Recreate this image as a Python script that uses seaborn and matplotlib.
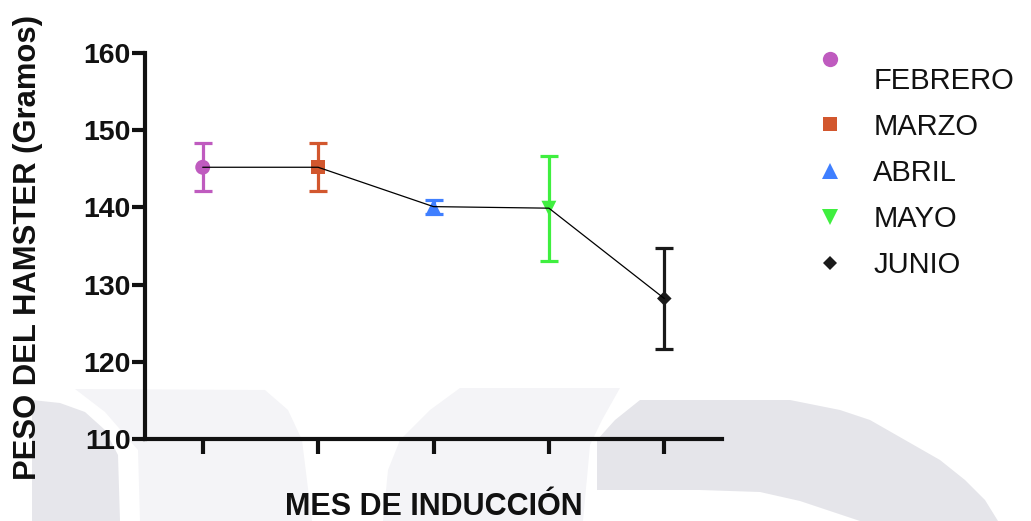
import numpy as np
import pandas as pd
import matplotlib
matplotlib.use("Agg")
import matplotlib.pyplot as plt
from matplotlib.lines import Line2D
from matplotlib.patches import Polygon
import seaborn as sns

# ---- data ----
meses = ["FEBRERO", "MARZO", "ABRIL", "MAYO", "JUNIO"]
peso_medio = [145.2, 145.2, 140.1, 139.9, 128.2]
error_std = [3.1, 3.1, 0.9, 6.8, 6.6]
yticks = [110, 120, 130, 140, 150, 160]

colores = ["#BF5BBF", "#D2572E", "#3F7FFF", "#3FEF3F", "#1A1A1A"]
marcadores = ["o", "s", "^", "v", "D"]
tamanos = [115, 100, 115, 115, 55]

df = pd.DataFrame({"mes": meses, "pos": np.arange(len(meses)),
                   "peso": peso_medio, "err": error_std})

sns.set_style("ticks")
plt.rcParams["font.family"] = ["Liberation Sans", "DejaVu Sans"]

W, H = 1031, 521
fig = plt.figure(figsize=(W / 100, H / 100), dpi=100)

# faint watermark in the background (pixel coordinates)
def px_poly(pts, color):
    xy = [(x / W, 1 - y / H) for x, y in pts]
    fig.patches.append(Polygon(xy, closed=True, transform=fig.transFigure,
                               facecolor=color, edgecolor="none", zorder=-10))

px_poly([(75, 389), (265, 390), (288, 410), (302, 440), (312, 521), (140, 521),
         (138, 450), (105, 412)], "#F4F4F7")
px_poly([(32, 400), (60, 403), (85, 412), (105, 430), (118, 455), (120, 521), (32, 521)], "#E6E6EB")
px_poly([(460, 388), (620, 388), (602, 420), (590, 445), (583, 521), (383, 521),
         (388, 470), (400, 440), (430, 410)], "#F4F4F7")
px_poly([(640, 400), (790, 400), (840, 410), (870, 420), (905, 440), (940, 460), (965, 480),
         (985, 500), (998, 521), (860, 521), (800, 501), (760, 492), (700, 490), (597, 490),
         (597, 440), (615, 420)], "#E5E5EA")

ax = fig.add_axes([145 / W, 1 - 439 / H, (722 - 145) / W, (439 - 53) / H])
ax.patch.set_alpha(0)

# error bars
for i, row in df.iterrows():
    ax.errorbar(row["pos"], row["peso"], yerr=row["err"], fmt="none",
                ecolor=colores[i], elinewidth=2.3, capsize=6.5, capthick=2.3, zorder=2)

# markers
sns.scatterplot(data=df, x="pos", y="peso", hue="mes", style="mes", size="mes",
                palette=dict(zip(meses, colores)),
                markers=dict(zip(meses, marcadores)),
                sizes=dict(zip(meses, tamanos)),
                linewidth=0, legend=False, ax=ax, zorder=3)

# connecting line
sns.lineplot(data=df, x="pos", y="peso", color="black", linewidth=0.9,
             sort=False, ax=ax, zorder=4)

ax.set_xlim(-0.5, 4.5)
ax.set_ylim(110, 160)
ax.set_yticks(yticks)
ax.set_xticks(df["pos"])
ax.set_xticklabels([])
ax.set_xlabel("")
ax.set_ylabel("")

for s in ["top", "right"]:
    ax.spines[s].set_visible(False)
for s in ["left", "bottom"]:
    ax.spines[s].set_linewidth(3)
    ax.spines[s].set_color("#111111")

ax.tick_params(axis="y", length=9.5, width=3, color="#111111", pad=1,
               labelsize=20.5, labelcolor="#111111")
ax.tick_params(axis="x", length=11, width=3, color="#111111")
for t in ax.get_yticklabels():
    t.set_fontweight("bold")

fig.text(28 / W, 1 - 247 / H, "PESO DEL HAMSTER (Gramos)", rotation=90,
         ha="center", va="center", fontsize=22.3, fontweight="bold", color="#111111")
fig.text(434 / W, 1 - 507 / H, "MES DE INDUCCIÓN", ha="center", va="center",
         fontsize=22, fontweight="bold", color="#111111")

# legend
leg_sizes = [11, 10.5, 11, 11, 7.5]
handles = [Line2D([], [], linestyle="none", marker=m, color=c, markersize=ms,
                  markeredgewidth=0) for m, c, ms in zip(marcadores, colores, leg_sizes)]
etiquetas = ["\n" + meses[0]] + meses[1:]
leg = fig.legend(handles, etiquetas, loc="upper left", bbox_to_anchor=(815 / W, 1 - 21 / H),
                 frameon=False, fontsize=21, handlelength=1.0, handletextpad=1.0,
                 labelspacing=0.62, borderpad=0, borderaxespad=0, labelcolor="#111111")
leg.get_texts()[0].set_linespacing(1.8)

fig.savefig("out.png", dpi=100)
